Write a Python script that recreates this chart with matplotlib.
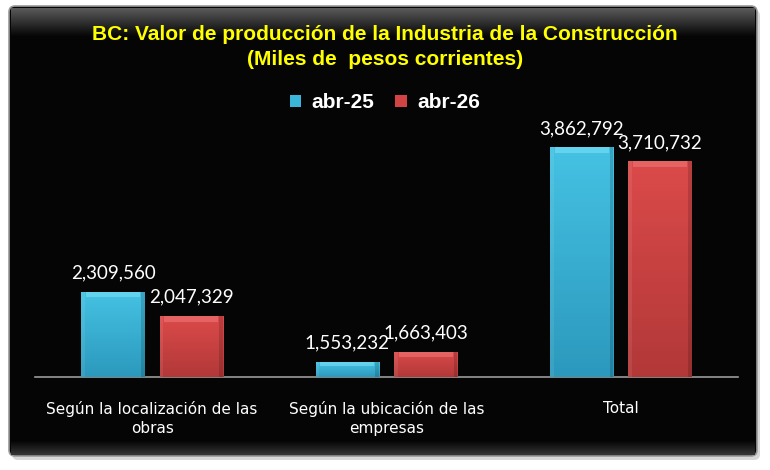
import numpy as np
import matplotlib
matplotlib.use("Agg")
import matplotlib.pyplot as plt
from matplotlib.patches import FancyBboxPatch, Patch

categories = ["Según la localización de las\nobras", "Según la ubicación de las\nempresas", "Total"]
series_names = ["abr-25", "abr-26"]
abr25 = [2309560, 1553232, 3862792]
abr26 = [2047329, 1663403, 3710732]

title = "BC: Valor de producción de la Industria de la Construcción\n(Miles de  pesos corrientes)"

fig = plt.figure(figsize=(7.7, 4.7), dpi=100)
fig.patch.set_facecolor("white")

# black rounded panel with grey bevel
bg = fig.add_axes([0, 0, 1, 1])
bg.set_xlim(0, 770)
bg.set_ylim(470, 0)
bg.axis("off")
bg.add_patch(FancyBboxPatch((12, 10), 748, 450, boxstyle="round,pad=0,rounding_size=6",
                            fc="#d8d8d8", ec="none"))
bg.add_patch(FancyBboxPatch((9, 6), 748, 450, boxstyle="round,pad=0,rounding_size=6",
                            fc="#050505", ec="#9a9a9a", lw=1.2))
grad = np.linspace(0.35, 0.02, 30).reshape(-1, 1)
bg.imshow(np.dstack([grad, grad, grad]), extent=(11, 755, 37, 8), aspect="auto", zorder=1)
bg.imshow(np.dstack([grad, grad, grad])[::-1] * 0.6, extent=(11, 755, 455, 440), aspect="auto", zorder=1)

ax = fig.add_axes([35 / 770, 1 - 377 / 470, 703 / 770, 277 / 470])
ax.set_facecolor("none")
x = np.arange(len(categories))
w = 0.27
off = 0.167
ymin = 1392000
b1 = ax.bar(x - off, abr25, w, color="#39b6da", zorder=2)
b2 = ax.bar(x + off, abr26, w, color="#d24444", zorder=2)
ax.set_xlim(-0.5, 2.5)
ax.set_ylim(ymin, 4371000)


def shade(bars, top, bottom, edge):
    for b in bars:
        x0 = b.get_x()
        x1, y1 = x0 + b.get_width(), b.get_height()
        t = np.linspace(0, 1, 50).reshape(-1, 1)
        c = np.array(top) * (1 - t) + np.array(bottom) * t
        img = np.repeat(c[:, None, :], 2, axis=1)
        im = ax.imshow(img, extent=(x0, x1, ymin, y1), aspect="auto", zorder=3,
                       origin="upper")
        im.set_clip_path(b)
        h = y1 - ymin
        bev = min(h * 0.25, 60000)
        ax.fill_between([x0 + 0.02, x1 - 0.02], y1 - bev, y1, color=edge, alpha=0.55,
                        zorder=4, lw=0)
        ax.fill_between([x0, x0 + 0.015], ymin, y1, color="white", alpha=0.08, zorder=4, lw=0)
        ax.fill_between([x1 - 0.015, x1], ymin, y1, color="black", alpha=0.15, zorder=4, lw=0)


shade(b1, (0.27, 0.76, 0.89), (0.17, 0.60, 0.74), "#7fe3f7")
shade(b2, (0.86, 0.29, 0.29), (0.70, 0.22, 0.22), "#f07a7a")

for bars, vals in [(b1, abr25), (b2, abr26)]:
    for b, v in zip(bars, vals):
        ax.text(b.get_x() + b.get_width() / 2, v + 110000, f"{v:,}", ha="center", va="bottom",
                color="white", fontsize=13.5, family="Lato", zorder=5)

for s in ["top", "right", "left"]:
    ax.spines[s].set_visible(False)
ax.spines["bottom"].set_color("#9a9a9a")
ax.spines["bottom"].set_linewidth(1.2)
ax.set_yticks([])
ax.set_xticks(x)
ax.set_xticklabels(categories, color="white", fontsize=11, family="DejaVu Sans",
                   linespacing=1.35)
ax.tick_params(axis="x", length=0, pad=17)

fig.text(0.5, 1 - 47 / 470, title, ha="center", va="center", color="#ffff00",
         fontsize=15, fontweight="bold", family=["Liberation Sans", "DejaVu Sans"],
         linespacing=1.45)

handles = [Patch(facecolor="#39b6da"), Patch(facecolor="#d24444")]
fig.legend(handles, series_names, loc="center", bbox_to_anchor=(0.5, 1 - 103 / 470),
           ncol=2, frameon=False, handlelength=0.55, handleheight=0.55, handletextpad=0.5,
           columnspacing=1.0,
           prop={"family": ["Liberation Sans", "DejaVu Sans"], "weight": "bold", "size": 15},
           labelcolor="white")

fig.savefig("out.png", dpi=100, facecolor="white")
